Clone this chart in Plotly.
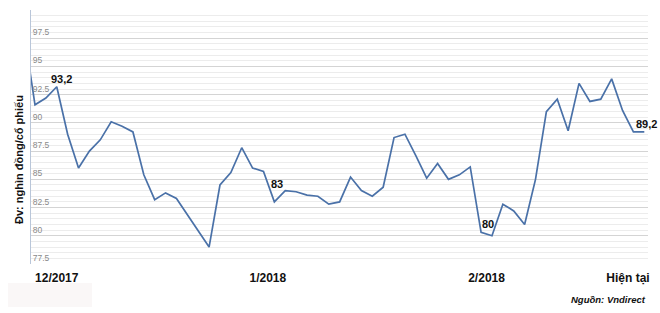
import plotly.graph_objects as go

# Daily share price (thousand VND / share); index 0 lies just left of the visible axis
prices = [98.0,
          91.6, 92.2, 93.2, 89.0, 86.0, 87.5, 88.5, 90.1, 89.7, 89.2,
          85.4, 83.2, 83.8, 83.3, 81.9, 80.5, 79.0, 84.5, 85.6, 87.8,
          86.0, 85.7, 83.0, 84.0, 83.9, 83.6, 83.5, 82.8, 83.0, 85.2,
          84.0, 83.5, 84.3, 88.7, 89.0, 87.1, 85.1, 86.4, 85.0, 85.4,
          86.1, 80.3, 80.0, 82.8, 82.2, 81.0, 85.0, 91.0, 92.1, 89.3,
          93.5, 91.9, 92.1, 93.9, 91.1, 89.2, 89.2]
days = list(range(len(prices)))

x_tick_pos = [3, 22.4, 42.5, 55.5]
x_tick_text = ["12/2017", "1/2018", "2/2018", "Hiện tại"]

y_tick_vals = [77.5, 80, 82.5, 85, 87.5, 90, 92.5, 95, 97.5, 100]
y_tick_text = ["77.5", "80", "82.5", "85", "87.5", "90", "92.5", "95", "97.5", ""]

# labelled points: (index, text, xshift, yshift)
point_labels = [(3, "93,2", 5, 7.5), (23, "83", 2.5, 18), (43, "80", -4, 12), (57, "89,2", 2, 8)]

fig = go.Figure()
fig.add_trace(go.Scatter(x=days, y=prices, mode="lines",
                         line=dict(color="#4a71a8", width=1.7),
                         hoverinfo="skip", showlegend=False))

for idx, txt, dx, dy in point_labels:
    fig.add_annotation(x=days[idx], y=prices[idx], text="<b>" + txt + "</b>",
                       showarrow=False, xshift=dx, yshift=dy,
                       font=dict(family="Liberation Sans", size=11, color="#111111"))

fig.add_annotation(xref="paper", yref="paper", x=(19 - 31) / 617, y=(264 - 160) / 254,
                   xanchor="center", yanchor="middle",
                   text="<b>Đv: nghìn đồng/cổ phiếu</b>", textangle=-90, showarrow=False,
                   font=dict(family="Liberation Sans", size=11, color="#111111"))

fig.add_annotation(xref="paper", yref="paper", x=1.0, y=-(299 - 264) / 254,
                   xanchor="right", yanchor="middle",
                   text="<b><i>Nguồn: Vndirect</i></b>", showarrow=False,
                   font=dict(family="Liberation Sans", size=9.5, color="#111111"))

# faint blurred watermark patch at bottom-left
fig.add_shape(type="rect", xref="paper", yref="paper",
              x0=(8 - 31) / 617, x1=(92 - 31) / 617,
              y0=-(307 - 264) / 254, y1=-(283 - 264) / 254,
              fillcolor="rgba(248,243,243,0.7)", line=dict(width=0), layer="below")

fig.update_layout(
    width=660, height=313,
    margin=dict(l=31, r=12, t=10, b=49),
    paper_bgcolor="white", plot_bgcolor="white",
    xaxis=dict(range=[0.632, 57.34], tickmode="array", tickvals=x_tick_pos,
               ticktext=x_tick_text, showgrid=False, zeroline=False, showline=False,
               ticks="", ticklabelstandoff=5,
               tickfont=dict(family="Liberation Sans", size=12, color="#111111",
                             weight="bold")),
    yaxis=dict(range=[77.5, 100], tickmode="array", tickvals=y_tick_vals,
               ticktext=y_tick_text, ticklabelposition="inside top",
               tickfont=dict(family="Liberation Sans", size=8.5, color="#8a8a8a"),
               showgrid=True, gridcolor="#d4d4d4", gridwidth=1, zeroline=False,
               showline=True, linecolor="#b9c6d9", linewidth=1, ticks="",
               minor=dict(dtick=0.5, tick0=77.5, showgrid=True, gridcolor="#ececec",
                          gridwidth=1)),
)

fig.write_html("out.html")
